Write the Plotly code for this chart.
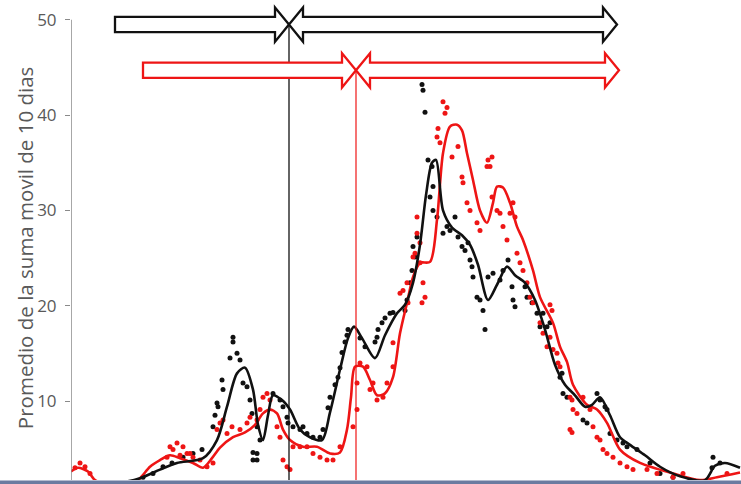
import plotly.graph_objects as go

# ---------------- data (x = day index, y = promedio) ----------------
black_line_x = [0, 40, 69, 89, 106, 132, 146, 156, 166, 174, 182, 187, 192, 197, 202, 211, 219, 229, 239, 251,
                259, 269, 277, 283, 291, 304, 314, 326, 334, 342, 349, 355, 361, 365, 372, 381, 391, 399, 407,
                417, 426, 436, 444, 454, 464, 474, 484, 494, 504, 514, 521, 529, 539, 549, 559, 574, 589, 609,
                634, 644, 654, 669]
black_line_y = [1.2, 1.3, 1.9, 2.8, 3.5, 4.0, 5.9, 9.4, 12.9, 13.5, 11.2, 7.5, 5.9, 8.5, 10.6, 10.1, 9.1, 7.0, 6.2, 5.9,
                8.8, 13.3, 16.6, 17.8, 16.6, 14.5, 16.9, 19.2, 20.1, 22.4, 26.4, 31.6, 35.0, 35.3, 30.0, 28.2, 27.4, 26.4, 24.3,
                20.6, 22.2, 24.1, 23.2, 22.4, 20.6, 17.5, 13.8, 11.7, 10.6, 9.4, 9.6, 10.4, 8.5, 6.2, 5.4, 4.3, 3.1, 2.1,
                1.7, 3.2, 3.5, 3.0]

red_line_x = [0, 7, 17, 24, 40, 60, 69, 79, 89, 99, 109, 122, 132, 141, 149, 162, 174, 184, 192, 199, 206, 212,
              219, 232, 246, 259, 269, 276, 280, 284, 292, 299, 306, 314, 322, 329, 336, 342, 349, 359, 366, 372,
              379, 386, 391, 396, 402, 409, 416, 422, 426, 432, 439, 446, 452, 462, 469, 482, 489, 496, 502, 516,
              526, 536, 549, 569, 602, 629, 646, 669]
red_line_y = [2.6, 3.0, 2.6, 1.7, 1.2, 1.3, 1.9, 3.1, 3.8, 4.3, 4.0, 3.5, 3.0, 4.0, 5.1, 6.2, 6.7, 7.5, 8.7, 9.1, 8.7, 7.0,
              5.9, 5.2, 5.2, 4.5, 4.6, 7.0, 10.4, 13.6, 13.6, 12.2, 10.6, 10.8, 12.5, 17.1, 20.3, 23.0, 24.5, 24.6, 29.0, 36.0,
              38.8, 39.0, 38.4, 36.0, 33.2, 30.0, 28.7, 30.8, 32.5, 32.4, 30.8, 28.3, 26.9, 23.7, 20.9, 18.2, 15.7, 14.1, 11.7, 9.6,
              9.1, 7.7, 4.9, 3.5, 2.4, 1.7, 2.0, 2.5]

black_pts_x = [72, 82, 92, 101, 112, 122, 131, 142, 144, 146, 147, 151, 152, 159, 162, 162, 166, 169, 172, 176, 179,
               181, 186, 189, 182, 186, 182, 186, 202, 209, 212, 216, 217, 222, 229, 232, 236, 242, 249, 252, 257,
               259, 264, 267, 269, 271, 274, 276, 277, 289, 294, 304, 306, 307, 311, 314, 319, 322, 334, 336, 339,
               341, 344, 342, 346, 359, 362, 357, 361, 354, 352, 351, 362, 366, 372, 376, 379, 384, 387, 391, 394,
               397, 399, 401, 402, 406, 409, 412, 414, 417, 422, 429, 432, 437, 441, 442, 444, 454, 456, 461, 466,
               469, 476, 472, 479, 489, 491, 492, 496, 512, 516, 526, 529, 534, 536, 539, 546, 552, 556, 566, 579,
               589, 602, 619, 642, 641, 649]
black_pts_y = [2.0, 2.4, 3.1, 3.5, 4.1, 4.5, 4.9, 7.3, 8.5, 9.8, 9.4, 12.2, 11.2, 14.5, 16.7, 16.2, 15.0, 14.3, 11.9, 11.5, 10.1,
               8.7, 7.3, 5.9, 4.6, 4.5, 3.8, 3.8, 10.8, 10.1, 9.4, 8.3, 7.7, 7.3, 7.0, 7.3, 6.6, 6.2, 6.2, 7.0, 9.3,
               10.4, 11.7, 12.5, 13.5, 15.1, 16.2, 16.9, 17.5, 16.6, 15.7, 16.2, 16.7, 17.5, 18.2, 18.7, 19.2, 19.3, 19.5, 20.6, 22.4,
               23.7, 25.1, 26.2, 27.2, 31.4, 32.5, 35.3, 34.6, 40.3, 42.6, 43.2, 30.0, 29.3, 27.6, 28.3, 27.9, 29.3, 27.2, 26.2, 25.8,
               26.6, 24.8, 24.1, 23.0, 20.9, 20.6, 19.5, 17.5, 23.0, 23.4, 22.7, 23.7, 24.8, 22.0, 20.6, 19.9, 22.0, 20.9, 20.3, 19.2,
               17.8, 17.8, 19.2, 18.2, 12.5, 12.9, 10.8, 10.4, 8.0, 7.7, 10.8, 10.1, 9.4, 9.1, 6.6, 5.9, 5.6, 5.2, 4.9, 3.5,
               2.4, 2.0, 1.7, 4.1, 3.0, 3.5]

red_pts_x = [4, 9, 14, 19, 96, 99, 102, 106, 109, 112, 116, 119, 122, 129, 136, 142, 146, 149, 152, 156, 161, 169,
             176, 179, 186, 189, 192, 196, 199, 206, 209, 212, 216, 219, 222, 229, 236, 242, 249, 256, 262, 269,
             282, 286, 286, 289, 296, 302, 299, 306, 312, 316, 322, 322, 329, 332, 336, 337, 342, 344, 346, 346,
             349, 349, 352, 354, 351, 366, 367, 369, 372, 374, 376, 381, 387, 391, 392, 396, 399, 406, 409, 416,
             417, 419, 421, 421, 426, 429, 432, 436, 439, 442, 444, 446, 449, 452, 456, 459, 462, 469, 472, 479,
             481, 476, 479, 482, 486, 487, 489, 499, 501, 499, 501, 502, 506, 512, 519, 522, 526, 529, 532, 536,
             542, 549, 556, 562, 576, 586, 602, 612, 636, 656]
red_pts_y = [3.0, 3.5, 3.1, 2.4, 4.1, 5.2, 4.9, 5.6, 4.3, 5.2, 4.5, 4.5, 4.1, 3.8, 3.1, 3.5, 7.0, 7.7, 8.0, 6.6, 7.3, 7.0,
             7.7, 8.3, 8.0, 9.1, 10.4, 10.8, 10.1, 7.3, 6.2, 3.8, 3.1, 2.8, 5.2, 5.2, 5.2, 4.5, 4.1, 3.8, 3.8, 5.2,
             7.3, 9.1, 11.9, 14.0, 13.6, 11.9, 11.2, 10.1, 10.4, 11.9, 13.6, 16.1, 21.3, 21.6, 22.4, 20.3, 25.1, 25.5, 27.6, 29.3,
             26.6, 24.5, 22.4, 20.9, 20.3, 37.7, 38.6, 37.1, 41.4, 40.2, 40.8, 35.6, 36.7, 33.5, 32.9, 30.8, 30.0, 28.7, 27.9, 34.6,
             35.3, 34.6, 35.6, 31.4, 30.0, 29.7, 28.3, 26.9, 29.7, 30.8, 29.3, 25.5, 24.5, 23.7, 22.4, 20.9, 20.3, 18.2, 17.1, 20.1,
             19.5, 15.7, 16.7, 15.4, 15.0, 14.0, 13.6, 10.4, 10.1, 7.0, 6.7, 9.1, 8.7, 10.4, 9.1, 7.3, 6.2, 5.9, 4.9, 4.5,
             4.1, 3.5, 3.1, 2.8, 2.8, 2.4, 2.0, 2.4, 1.7, 2.4]

y_ticks = [10, 20, 30, 40, 50]
y_title = "Promedio de la suma movil de 10 dias"

# period breakpoints (day index) and arrow spans
black_start, black_break, black_end = 44, 218, 546
red_start, red_break, red_end = 72, 285, 548
black_arrow_y, red_arrow_y = 49.5, 44.7

BLACK = "#111111"
RED = "#ee1515"
Y_MIN, Y_MAX = 1.71, 52.08
X_MIN, X_MAX = 0, 670

fig = go.Figure()
fig.add_trace(go.Scatter(x=black_pts_x, y=black_pts_y, mode="markers",
                         marker=dict(color=BLACK, size=5), showlegend=False, cliponaxis=True))
fig.add_trace(go.Scatter(x=red_pts_x, y=red_pts_y, mode="markers",
                         marker=dict(color=RED, size=5), showlegend=False, cliponaxis=True))
fig.add_trace(go.Scatter(x=red_line_x, y=red_line_y, mode="lines",
                         line=dict(color=RED, width=2.6, shape="spline", smoothing=0.8), showlegend=False))
fig.add_trace(go.Scatter(x=black_line_x, y=black_line_y, mode="lines",
                         line=dict(color=BLACK, width=2.6, shape="spline", smoothing=0.8), showlegend=False))


def arrow_path(x0, x1, yc, left_head, right_head, head_len=14, body=0.8, head=1.8):
    pts = []
    if left_head:
        pts += [(x0, yc), (x0 + head_len, yc + head), (x0 + head_len, yc + body)]
    else:
        pts += [(x0, yc + body)]
    if right_head:
        pts += [(x1 - head_len, yc + body), (x1 - head_len, yc + head), (x1, yc),
                (x1 - head_len, yc - head), (x1 - head_len, yc - body)]
    else:
        pts += [(x1, yc + body), (x1, yc - body)]
    if left_head:
        pts += [(x0 + head_len, yc - body), (x0 + head_len, yc - head)]
    else:
        pts += [(x0, yc - body)]
    return "M " + " L ".join(f"{px},{py}" for px, py in pts) + " Z"


shapes = []
# vertical breakpoint lines
shapes.append(dict(type="line", xref="x", yref="y", x0=black_break, x1=black_break,
                   y0=Y_MIN, y1=black_arrow_y, line=dict(color=BLACK, width=1.3)))
shapes.append(dict(type="line", xref="x", yref="y", x0=red_break, x1=red_break,
                   y0=Y_MIN, y1=red_arrow_y, line=dict(color=RED, width=1.2)))
# arrows
for x0, x1, yc, lh, rh, col in [
    (black_start, black_break, black_arrow_y, False, True, BLACK),
    (black_break, black_end, black_arrow_y, True, True, BLACK),
    (red_start, red_break, red_arrow_y, False, True, RED),
    (red_break, red_end, red_arrow_y, True, True, RED),
]:
    shapes.append(dict(type="path", xref="x", yref="y", path=arrow_path(x0, x1, yc, lh, rh),
                       fillcolor="white", line=dict(color=col, width=2.3)))
# y axis line (to 50)
shapes.append(dict(type="line", xref="x", yref="y", x0=0, x1=0, y0=Y_MIN, y1=50,
                   line=dict(color="#8a8a8a", width=1.5)))
# bottom frame strip
shapes.append(dict(type="rect", xref="paper", yref="paper", x0=-0.2, x1=1.0, y0=-0.0085, y1=-0.001,
                   fillcolor="#6b7ba0", line=dict(width=0), layer="above"))

fig.update_layout(
    width=741, height=484,
    margin=dict(l=71, r=0, t=0, b=4),
    paper_bgcolor="white", plot_bgcolor="white",
    shapes=shapes,
    font=dict(family="Open Sans, Liberation Sans, sans-serif", color="#595959"),
    xaxis=dict(range=[X_MIN, X_MAX], showticklabels=False, showgrid=False, zeroline=False,
               showline=False, ticks=""),
    yaxis=dict(range=[Y_MIN, Y_MAX], tickvals=y_ticks, ticks="outside", ticklen=5,
               tickcolor="#8a8a8a", tickwidth=1.3, showgrid=False, zeroline=False, showline=False,
               ticklabelstandoff=5,
               tickfont=dict(size=17, color="#595959")),
    annotations=[dict(text=y_title, textangle=-90, xref="paper", yref="paper",
                      x=-0.0687, y=0.483, xanchor="center", yanchor="middle", showarrow=False,
                      font=dict(size=20.5, color="#595959"))],
)

fig.write_html("out.html")
